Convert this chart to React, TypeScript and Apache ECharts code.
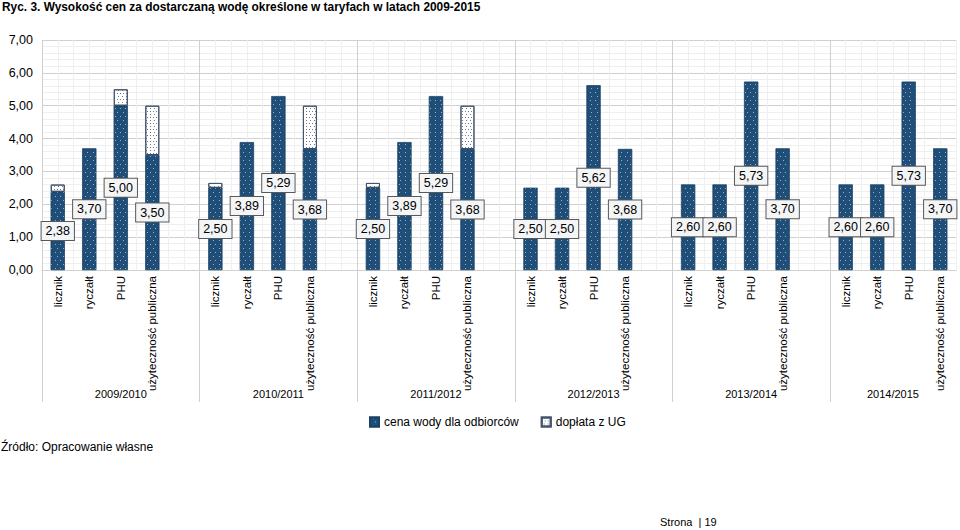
import React, { useEffect, useRef } from "react";
import * as echarts from "echarts";

const typeLabels = ["licznik", "ryczałt", "PHU", "użyteczność publiczna"];
const periods = ["2009/2010", "2010/2011", "2011/2012", "2012/2013", "2013/2014", "2014/2015"];
// values for 24 bars (6 periods x 4 types)
const cenaWody = [
  2.38, 3.7, 5.0, 3.5,
  2.5, 3.89, 5.29, 3.68,
  2.5, 3.89, 5.29, 3.68,
  2.5, 2.5, 5.62, 3.68,
  2.6, 2.6, 5.73, 3.7,
  2.6, 2.6, 5.73, 3.7,
];
const doplataUG = [
  0.22, 0, 0.5, 1.5,
  0.15, 0, 0, 1.32,
  0.15, 0, 0, 1.32,
  0, 0, 0, 0,
  0, 0, 0, 0,
  0, 0, 0, 0,
];
const yTicks = [0, 1, 2, 3, 4, 5, 6, 7];

const FONT = "'Liberation Sans', Arial, sans-serif";

export default function App() {
  const ref = useRef<HTMLDivElement>(null);
  useEffect(() => {
    if (!ref.current) return;
    const chart = echarts.init(ref.current, null, { renderer: "svg" });

    // build 29 slots: 4 bars + 1 gap per period (no gap after last)
    const cats: string[] = [];
    const base: any[] = [];
    const top: any[] = [];
    periods.forEach((p, pi) => {
      typeLabels.forEach((t, ti) => {
        const i = pi * 4 + ti;
        cats.push(t);
        base.push(cenaWody[i]);
        top.push(doplataUG[i] > 0 ? doplataUG[i] : "-");
      });
      if (pi < periods.length - 1) {
        cats.push("");
        base.push("-");
        top.push("-");
      }
    });
    const nSlots = cats.length;
    const groupCenters: Record<string, string> = {};
    periods.forEach((p, pi) => {
      const start = pi * 5;
      const len = pi < periods.length - 1 ? 5 : 4;
      groupCenters[String(start + len / 2)] = p;
    });

    const fmt = (v: number) => v.toFixed(2).replace(".", ",");
    const sepColors = ["#d0d0d0", "#d0d0d0", "#d0d0d0", "#d0d0d0", "#d0d0d0", "#d0d0d0", "rgba(0,0,0,0)"];

    chart.setOption({
      animation: false,
      backgroundColor: "#ffffff",
      textStyle: { fontFamily: FONT },
      grid: [
        { left: 42, right: 4, top: 40, height: 230 },
        { left: 42, right: 4, top: 270, height: 132 },
      ],
      legend: {
        left: 364,
        top: 411,
        itemWidth: 9,
        itemHeight: 9,
        itemGap: 22,
        icon: "rect",
        textStyle: { fontFamily: FONT, fontSize: 12, color: "#000" },
        data: ["cena wody dla odbiorców", "dopłata z UG"],
      },
      xAxis: [
        {
          type: "category",
          gridIndex: 0,
          position: "bottom",
          data: cats,
          axisLine: { show: true, lineStyle: { color: "#d0d0d0" } },
          axisTick: { show: false },
          axisLabel: { rotate: 90, fontSize: 11.5, color: "#000", margin: 6, interval: 0, fontFamily: FONT },
          splitLine: { show: false },
        },
        {
          type: "value",
          gridIndex: 0,
          position: "top",
          min: 0,
          max: nSlots,
          interval: 0.5,
          axisLine: { show: false },
          axisTick: { show: false },
          axisLabel: { show: false },
          splitLine: { show: true, lineStyle: { color: "#efefef" } },
        },
        {
          type: "value",
          gridIndex: 0,
          position: "top",
          min: 0,
          max: nSlots,
          interval: 5,
          axisLine: { show: false },
          axisTick: { show: false },
          axisLabel: { show: false },
          splitLine: { show: true, lineStyle: { color: sepColors } },
        },
        {
          type: "value",
          gridIndex: 1,
          position: "top",
          min: 0,
          max: nSlots,
          interval: 5,
          axisLine: { show: false },
          axisTick: { show: false },
          axisLabel: { show: false },
          splitLine: { show: true, lineStyle: { color: sepColors } },
        },
        {
          type: "value",
          gridIndex: 1,
          position: "bottom",
          min: 0,
          max: nSlots,
          interval: 0.5,
          axisLine: { show: false },
          axisTick: { show: false },
          splitLine: { show: false },
          axisLabel: {
            inside: true,
            margin: 3,
            fontSize: 11,
            color: "#000",
            fontFamily: FONT,
            showMinLabel: true,
            showMaxLabel: true,
            formatter: (v: number) => groupCenters[String(v)] || "",
          },
        },
      ],
      yAxis: [
        {
          type: "value",
          gridIndex: 0,
          min: yTicks[0],
          max: yTicks[yTicks.length - 1],
          interval: 1,
          axisLine: { show: false },
          axisTick: { show: false },
          axisLabel: { fontSize: 12.5, color: "#000", margin: 9, fontFamily: FONT, formatter: fmt },
          splitLine: { show: true, lineStyle: { color: "#d0d0d0" } },
          minorTick: { show: false, splitNumber: 5 },
          minorSplitLine: { show: true, lineStyle: { color: "#efefef" } },
        },
        { type: "value", gridIndex: 1, show: false, min: 0, max: 1 },
      ],
      series: [
        {
          name: "cena wody dla odbiorców",
          type: "bar",
          xAxisIndex: 0,
          yAxisIndex: 0,
          stack: "total",
          barWidth: 14,
          data: base,
          itemStyle: {
            color: "#1f4e79",
            borderColor: "#1a4066",
            borderWidth: 0.5,
            decal: {
              symbol: "rect",
              symbolSize: 1,
              color: "rgba(255,255,255,0.55)",
              dashArrayX: [[1, 4], [0, 2.5, 1, 1.5]],
              dashArrayY: [1, 3],
            },
          },
          label: {
            show: true,
            position: "inside",
            formatter: (p: any) => fmt(p.value),
            fontSize: 12.5,
            color: "#000",
            fontFamily: FONT,
            backgroundColor: "#f4f5f7",
            borderColor: "#595959",
            borderWidth: 1,
            padding: [3, 4, 2, 4],
          },
          z: 3,
        },
        {
          name: "dopłata z UG",
          type: "bar",
          xAxisIndex: 0,
          yAxisIndex: 0,
          stack: "total",
          barWidth: 14,
          data: top,
          itemStyle: {
            color: "#ffffff",
            borderColor: "#44546a",
            borderWidth: 1,
            decal: {
              symbol: "rect",
              symbolSize: 1,
              color: "#6b7a8c",
              dashArrayX: [[1, 2], [0, 1.5, 1, 0.5]],
              dashArrayY: [1, 1.5],
            },
          },
          z: 2,
        },
      ],
      graphic: [
        {
          type: "text",
          left: 2,
          top: 1,
          style: {
            text: "Ryc. 3. Wysokość cen za dostarczaną wodę określone w taryfach w latach 2009-2015",
            font: "bold 11.9px 'Liberation Sans', Arial, sans-serif",
            fill: "#000",
          },
        },
        {
          type: "text",
          left: 1,
          top: 441,
          style: {
            text: "Źródło: Opracowanie własne",
            font: "12px 'Liberation Sans', Arial, sans-serif",
            fill: "#000",
          },
        },
        {
          type: "text",
          left: 660,
          top: 516,
          style: {
            text: "Strona  | 19",
            font: "11px 'Liberation Sans', Arial, sans-serif",
            fill: "#000",
          },
        },
      ],
    });
    return () => chart.dispose();
  }, []);
  return (
    <div
      ref={ref}
      style={{ position: "absolute", left: 0, top: 0, width: 960, height: 530, background: "#fff" }}
    />
  );
}
